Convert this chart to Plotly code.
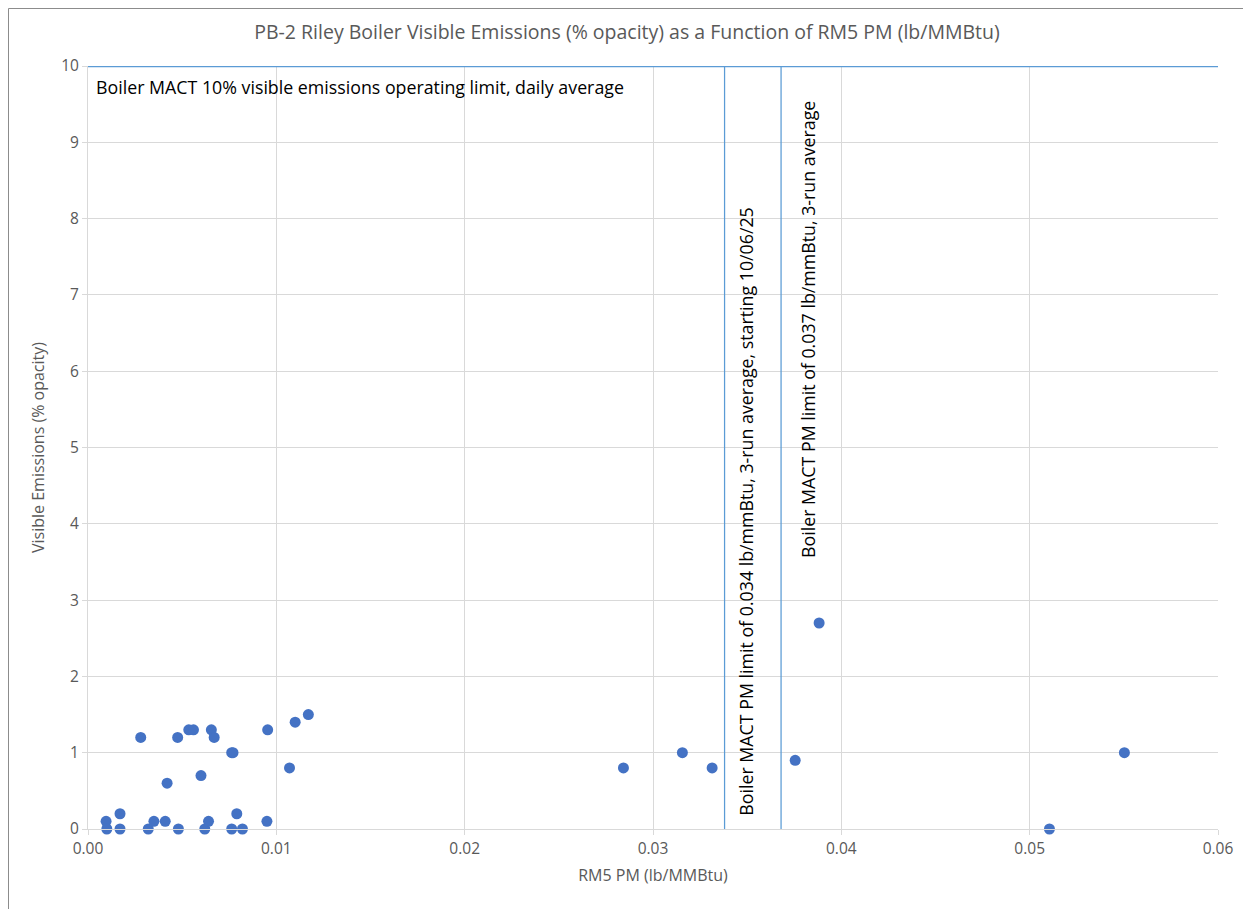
import plotly.graph_objects as go

# Data
rm5_pm = [0.00096, 0.0010, 0.0017, 0.0017, 0.0028, 0.0032, 0.0035, 0.0041, 0.0042,
          0.00476, 0.0048, 0.00535, 0.0056, 0.0060, 0.0062, 0.0064, 0.00655, 0.0067,
          0.00763, 0.0077, 0.00763, 0.0079, 0.0082, 0.0095, 0.00954, 0.0107, 0.0110,
          0.0117, 0.02843, 0.03156, 0.03314, 0.03755, 0.03882, 0.05105, 0.05503]
visible_emissions = [0.1, 0.0, 0.2, 0.0, 1.2, 0.0, 0.1, 0.1, 0.6,
                     1.2, 0.0, 1.3, 1.3, 0.7, 0.0, 0.1, 1.3, 1.2,
                     1.0, 1.0, 0.0, 0.2, 0.0, 0.1, 1.3, 0.8, 1.4,
                     1.5, 0.8, 1.0, 0.8, 0.9, 2.7, 0.0, 1.0]

opacity_limit = 10
pm_limit_new_line = 0.0338   # line position as drawn in the reference
pm_limit_old_line = 0.0368

title = "PB-2 Riley Boiler Visible Emissions (% opacity) as a Function of RM5 PM (lb/MMBtu)"
x_title = "RM5 PM (lb/MMBtu)"
y_title = "Visible Emissions (% opacity)"
x_ticks = [0.00, 0.01, 0.02, 0.03, 0.04, 0.05, 0.06]
x_ticklabels = ["0.00", "0.01", "0.02", "0.03", "0.04", "0.05", "0.06"]
y_ticks = list(range(0, 11))

opacity_label = "Boiler MACT 10% visible emissions operating limit, daily average"
new_limit_label = "Boiler MACT PM limit of 0.034 lb/mmBtu, 3-run average, starting 10/06/25"
old_limit_label = "Boiler MACT PM limit of 0.037 lb/mmBtu, 3-run average"

FONT = "Open Sans"
GRAY = "#595959"
BLUE_LINE = "#5B9BD5"
ANN_SIZE = 17.8

fig = go.Figure()

fig.add_trace(go.Scatter(x=[0, 0.06], y=[opacity_limit, opacity_limit], mode="lines",
                         line=dict(color=BLUE_LINE, width=2.25), hoverinfo="skip",
                         showlegend=False, cliponaxis=False))
fig.add_trace(go.Scatter(x=[pm_limit_new_line, pm_limit_new_line], y=[0, opacity_limit], mode="lines",
                         line=dict(color=BLUE_LINE, width=1.25), hoverinfo="skip",
                         showlegend=False))
fig.add_trace(go.Scatter(x=[pm_limit_old_line, pm_limit_old_line], y=[0, opacity_limit], mode="lines",
                         line=dict(color=BLUE_LINE, width=1.25), hoverinfo="skip",
                         showlegend=False))

fig.add_trace(go.Scatter(x=rm5_pm, y=visible_emissions, mode="markers",
                         marker=dict(color="#4472C4", size=11), showlegend=False,
                         cliponaxis=False))

fig.add_annotation(x=0.0003, y=9.72, xref="x", yref="y", text=opacity_label,
                   showarrow=False, xanchor="left", yanchor="middle",
                   font=dict(family=FONT, size=ANN_SIZE, color="black"))
fig.add_annotation(x=0.03489, y=0.15, xref="x", yref="y", text=new_limit_label,
                   showarrow=False, textangle=-90, xanchor="center", yanchor="bottom",
                   font=dict(family=FONT, size=ANN_SIZE, color="black"))
fig.add_annotation(x=0.03823, y=3.52, xref="x", yref="y", text=old_limit_label,
                   showarrow=False, textangle=-90, xanchor="center", yanchor="bottom",
                   font=dict(family=FONT, size=ANN_SIZE, color="black"))

# outer chart border (page offset of 8px from body margin)
L, T, PW, PH = 80, 58, 1130, 763
fig.add_shape(type="rect", xref="paper", yref="paper",
              x0=(0.5 - L) / PW, x1=(1251 - L) / PW,
              y0=-(909 - T - PH - 0.5) / PH, y1=1 + (T - 0.5) / PH,
              line=dict(color="#8C8C8C", width=1), fillcolor="rgba(0,0,0,0)", layer="below")

fig.update_layout(
    width=1251, height=909,
    margin=dict(l=L, r=1251 - L - PW, t=T, b=909 - T - PH),
    plot_bgcolor="white", paper_bgcolor="white",
    font=dict(family=FONT, color=GRAY, size=15.5),
    title=dict(text=title, x=(627 - 88) / 1130, xanchor="center", xref="paper",
               y=1 - 24 / 909, yanchor="middle",
               font=dict(family=FONT, size=19.5, color=GRAY)),
    xaxis=dict(range=[0, 0.06], tickvals=x_ticks, ticktext=x_ticklabels,
               showgrid=True, gridcolor="#D9D9D9", gridwidth=1,
               zeroline=False, showline=True, linecolor="#D9D9D9",
               ticks="outside", ticklen=5, tickcolor="#D9D9D9",
               tickfont=dict(family=FONT, size=15.5, color=GRAY),
               title=dict(text=x_title, font=dict(family=FONT, size=16, color=GRAY), standoff=12)),
    yaxis=dict(range=[0, 10], tickvals=y_ticks,
               showgrid=True, gridcolor="#D9D9D9", gridwidth=1,
               zeroline=False, showline=True, linecolor="#D9D9D9",
               ticks="outside", ticklen=5, tickcolor="#D9D9D9",
               tickfont=dict(family=FONT, size=15.5, color=GRAY),
               title=dict(text=y_title, font=dict(family=FONT, size=16, color=GRAY), standoff=12)),
)

fig.write_html("out.html")
